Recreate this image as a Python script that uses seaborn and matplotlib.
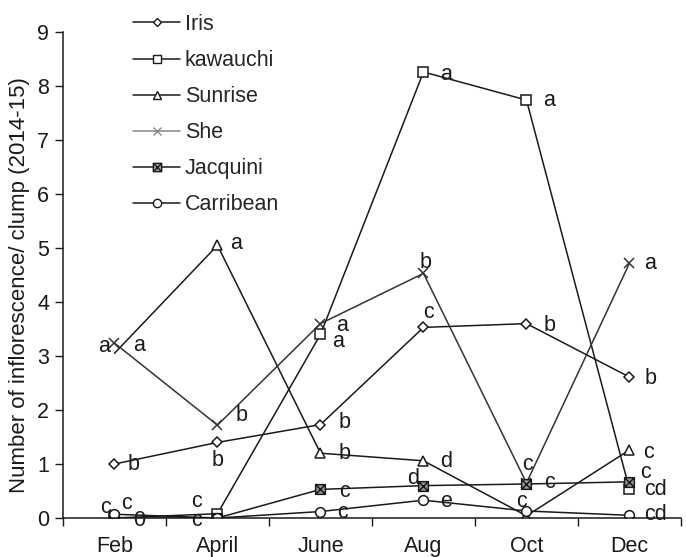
import matplotlib
matplotlib.use("Agg")
import matplotlib.pyplot as plt
from matplotlib.path import Path
from matplotlib.lines import Line2D
import seaborn as sns
import pandas as pd

months = ["Feb", "April", "June", "Aug", "Oct", "Dec"]
iris = [1.0, 1.4, 1.73, 3.53, 3.6, 2.61]
kawauchi = [0.0, 0.08, 3.4, 8.26, 7.74, 0.53]
sunrise = [3.05, 5.05, 1.2, 1.06, 0.04, 1.26]
she = [3.24, 1.72, 3.6, 4.53, 0.65, 4.72]
jacquini = [0.0, 0.0, 0.53, 0.6, 0.63, 0.67]
carribean = [0.07, 0.0, 0.12, 0.33, 0.13, 0.05]

varieties = ["Iris", "kawauchi", "Sunrise", "She", "Jacquini", "Carribean"]
series = [iris, kawauchi, sunrise, she, jacquini, carribean]

# significance letters: (x position, y position, letter)
letters = [
    (-0.10, 3.17, "a"), (0.24, 3.2, "a"), (0.19, 1.0, "b"), (-0.09, 0.2, "c"),
    (0.12, 0.26, "c"), (0.24, -0.04, "0"),
    (1.18, 5.09, "a"), (1.23, 1.89, "b"), (1.0, 1.06, "b"), (0.80, 0.30, "c"),
    (0.80, -0.04, "c"),
    (2.21, 3.56, "a"), (2.17, 3.26, "a"), (2.23, 1.76, "b"), (2.23, 1.19, "b"),
    (2.23, 0.5, "c"), (2.21, 0.11, "c"),
    (3.22, 8.22, "a"), (3.02, 4.74, "b"), (3.05, 3.8, "c"), (3.22, 1.04, "d"),
    (2.90, 0.74, "d"), (3.22, 0.30, "e"),
    (4.22, 7.74, "a"), (4.22, 3.57, "b"), (4.01, 1.0, "c"), (4.22, 0.65, "c"),
    (3.95, 0.30, "c"),
    (5.20, 4.72, "a"), (5.20, 2.59, "b"), (5.18, 1.22, "c"), (5.16, 0.85, "c"),
    (5.25, 0.52, "cd"), (5.25, 0.06, "cd"),
]

sns.set_style("white")
plt.rcParams["font.family"] = ["Liberation Sans", "DejaVu Sans"]
fs = 15.5
plt.rcParams["font.size"] = fs
ink = "#1a1a1a"

# square with a cross inside for Jacquini
boxx = Path(
    [(-1, -1), (1, -1), (1, 1), (-1, 1), (-1, -1), (-1, -1), (1, 1), (-1, 1), (1, -1)],
    [Path.MOVETO, Path.LINETO, Path.LINETO, Path.LINETO, Path.CLOSEPOLY,
     Path.MOVETO, Path.LINETO, Path.MOVETO, Path.LINETO],
)

styles = {
    "Iris": dict(marker="D", ms=5, mfc="white"),
    "kawauchi": dict(marker="s", ms=7, mfc="white"),
    "Sunrise": dict(marker="^", ms=7, mfc="white"),
    "She": dict(marker="x", ms=7, mfc="white"),
    "Jacquini": dict(marker=boxx, ms=7, mfc="#999999"),
    "Carribean": dict(marker="o", ms=7, mfc="white"),
}
# Sunrise has no visible marker at Feb in the original
mark_at = {"Sunrise": [1, 2, 3, 4, 5]}

fig = plt.figure(figsize=(6.86, 5.57), dpi=100)
ax = fig.add_axes([0.0918, 0.070, 0.9009, 0.8725])

handles = []
for name, vals in zip(varieties, series):
    df = pd.DataFrame({"month": months, "value": vals})
    st = styles[name]
    col = "#333333" if name == "She" else ink
    sns.lineplot(data=df, x="month", y="value", ax=ax, color=col,
                 lw=1.1, marker=st["marker"], markersize=st["ms"],
                 markerfacecolor=st["mfc"], markeredgecolor=col,
                 markeredgewidth=1.1, sort=False,
                 markevery=mark_at.get(name, None))
    lc = "#888888" if name == "She" else ink
    handles.append(Line2D([0], [0], color=lc, lw=1.1, marker=st["marker"],
                          markersize=st["ms"] - 1, markerfacecolor=st["mfc"],
                          markeredgecolor=lc, markeredgewidth=1.0, label=name))

for x, y, t in letters:
    ax.text(x, y, t, ha="center", va="center", fontsize=fs, color=ink)

ax.set_xlim(-0.5, 5.5)
ax.set_ylim(0, 9)
ax.set_yticks(range(0, 10))
ax.set_xticks([i - 0.5 for i in range(7)])
ax.set_xticklabels([])
ax.set_xticks(range(6), minor=True)
ax.set_xticklabels(months, minor=True)
ax.tick_params(axis="x", which="major", direction="out", length=6, width=1,
               color=ink, bottom=True)
ax.tick_params(axis="x", which="minor", length=0, pad=13, labelsize=fs,
               labelcolor=ink)
ax.tick_params(axis="y", direction="out", length=6, width=1, color=ink,
               left=True, pad=4, labelsize=fs, labelcolor=ink)

ax.set_xlabel("")
ax.set_ylabel("Number of inflorescence/ clump (2014-15)", fontsize=16,
              color=ink)
ax.yaxis.set_label_coords(-0.054, 0.48)

sns.despine(ax=ax)
for s in ["left", "bottom"]:
    ax.spines[s].set_color(ink)
    ax.spines[s].set_linewidth(1.1)

fig.legend(handles=handles, loc="upper left",
           bbox_to_anchor=(133 / 686, 1 - 14 / 557), frameon=False,
           fontsize=fs, handlelength=2.2, handletextpad=0.2, labelspacing=0.7,
           borderpad=0, borderaxespad=0)

fig.savefig("out.png", dpi=100)
